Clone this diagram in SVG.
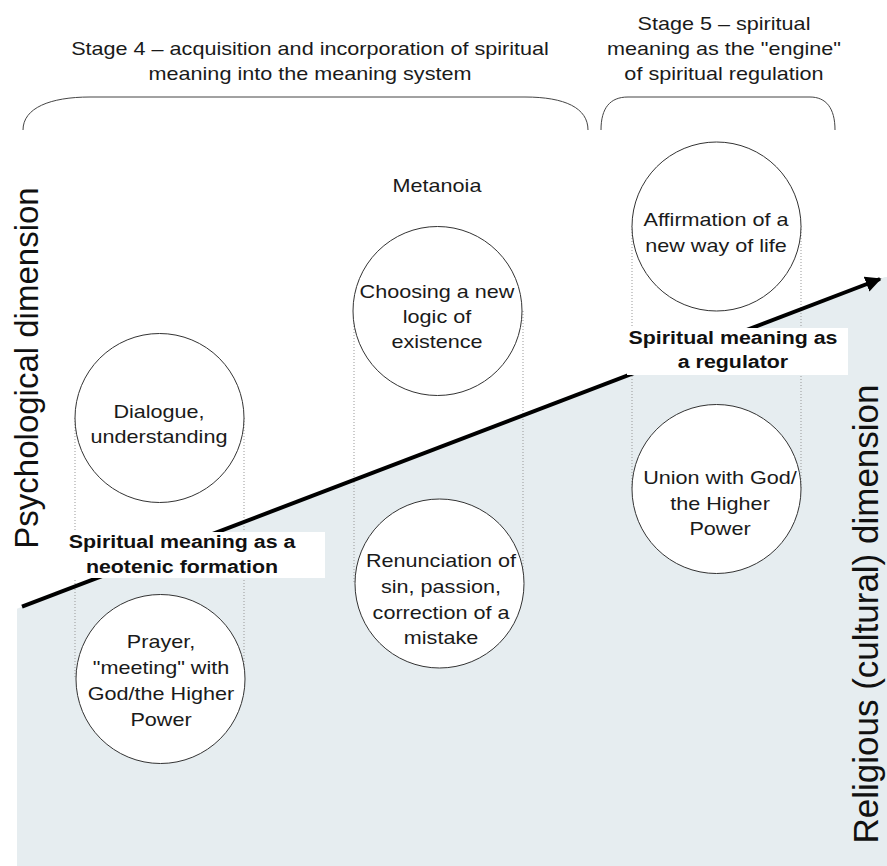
<svg xmlns="http://www.w3.org/2000/svg" width="887" height="866" viewBox="0 0 887 866">
<style>
.t{font-family:"Liberation Sans",Arial,sans-serif;font-size:18px;fill:#1a1a1a;text-anchor:middle}
.b{font-family:"Liberation Sans",Arial,sans-serif;font-size:17.8px;font-weight:bold;fill:#111;text-anchor:middle}
.v{font-family:"Liberation Sans",Arial,sans-serif;fill:#111;text-anchor:middle}
.c{fill:#fff;stroke:#333;stroke-width:1}
.d{stroke:#999;stroke-width:1;stroke-dasharray:1 2;fill:none}
.br{fill:none;stroke:#444;stroke-width:1}
</style>
<defs>
<marker id="ah" viewBox="0 0 10 10" refX="9" refY="5" markerWidth="4" markerHeight="4" orient="auto" markerUnits="strokeWidth">
<path d="M0,0 L10,5 L0,10 Z" fill="#000"/>
</marker>
</defs>
<rect width="887" height="866" fill="#fff"/>
<path id="shade" d="M17,608.7 L885,277 L887,277 L887,866 L17,866 Z" fill="#e6edf0"/>
<g id="connectors">
<line class="d" x1="75" y1="418" x2="75" y2="679"/>
<line class="d" x1="244" y1="418" x2="244" y2="679"/>
<line class="d" x1="354" y1="311" x2="354" y2="583"/>
<line class="d" x1="523" y1="311" x2="523" y2="583"/>
<line class="d" x1="632" y1="226" x2="632" y2="489"/>
<line class="d" x1="801" y1="226" x2="801" y2="489"/>
<line x1="22" y1="606.7" x2="880" y2="279" stroke="#000" stroke-width="4" marker-end="url(#ah)"/>
</g>
<g id="stage4">
<path class="br" d="M23,130 C23,108 50,97 90,97 L525,97 C565,97 588,108 588,130"/>
<text class="t" transform="translate(310,55) scale(1.2,1)"><tspan x="0" y="0">Stage 4 – acquisition and incorporation of spiritual</tspan><tspan x="0" y="25">meaning into the meaning system</tspan></text>
</g>
<g id="stage5">
<path class="br" d="M601,130 C601,108 610,97 628,97 L810,97 C826,97 835,108 835,130"/>
<text class="t" transform="translate(724,30) scale(1.2,1)"><tspan x="0" y="0">Stage 5 – spiritual</tspan><tspan x="0" y="25">meaning as the "engine"</tspan><tspan x="0" y="50">of spiritual regulation</tspan></text>
</g>
<g id="metanoia">
<text class="t" transform="translate(437,192) scale(1.2,1)">Metanoia</text>
</g>
<g id="axis-psych">
<text class="v" font-size="33" transform="translate(38,368) rotate(-90)">Psychological dimension</text>
</g>
<g id="axis-relig">
<text class="v" font-size="35" transform="translate(878,614) rotate(-90)">Religious (cultural) dimension</text>
</g>
<g id="n-dialogue">
<circle class="c" cx="159.5" cy="418" r="84.5"/>
<text class="t" transform="translate(159,418) scale(1.2,1)"><tspan x="0" y="0">Dialogue,</tspan><tspan x="0" y="25">understanding</tspan></text>
</g>
<g id="n-prayer">
<circle class="c" cx="160.5" cy="679" r="84.5"/>
<text class="t" transform="translate(161,648) scale(1.2,1)"><tspan x="0" y="0">Prayer,</tspan><tspan x="0" y="26">"meeting" with</tspan><tspan x="0" y="52">God/the Higher</tspan><tspan x="0" y="78">Power</tspan></text>
</g>
<g id="n-choosing">
<circle class="c" cx="437.5" cy="311" r="84.5"/>
<text class="t" transform="translate(437,298) scale(1.2,1)"><tspan x="0" y="0">Choosing a new</tspan><tspan x="0" y="25">logic of</tspan><tspan x="0" y="50">existence</tspan></text>
</g>
<g id="n-renunciation">
<circle class="c" cx="439.5" cy="583.5" r="84.5"/>
<text class="t" transform="translate(441,567) scale(1.2,1)"><tspan x="0" y="0">Renunciation of</tspan><tspan x="0" y="26">sin, passion,</tspan><tspan x="0" y="52">correction of a</tspan><tspan x="0" y="77">mistake</tspan></text>
</g>
<g id="n-affirmation">
<circle class="c" cx="716.5" cy="226.5" r="84.5"/>
<text class="t" transform="translate(716,226) scale(1.2,1)"><tspan x="0" y="0">Affirmation of a</tspan><tspan x="0" y="26">new way of life</tspan></text>
</g>
<g id="n-union">
<circle class="c" cx="716.5" cy="489" r="84.5"/>
<text class="t" transform="translate(720,484) scale(1.2,1)"><tspan x="0" y="0">Union with God/</tspan><tspan x="0" y="26">the Higher</tspan><tspan x="0" y="51">Power</tspan></text>
</g>
<g id="l-neotenic">
<rect x="60" y="532" width="265" height="46" fill="#fff"/>
<text class="b" transform="translate(182,548) scale(1.2,1)"><tspan x="0" y="0">Spiritual meaning as a</tspan><tspan x="0" y="25">neotenic formation</tspan></text>
</g>
<g id="l-regulator">
<rect x="627" y="328" width="221" height="47" fill="#fff"/>
<text class="b" transform="translate(733,344) scale(1.2,1)"><tspan x="0" y="0">Spiritual meaning as</tspan><tspan x="0" y="24">a regulator</tspan></text>
</g>
</svg>
